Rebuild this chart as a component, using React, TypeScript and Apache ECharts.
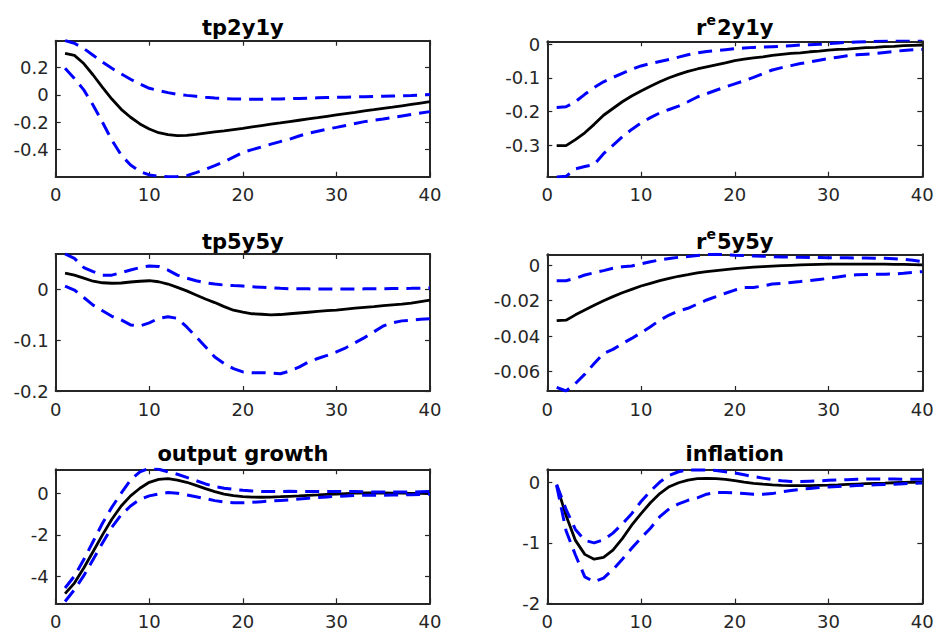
import React, { useEffect, useRef } from "react";
import * as echarts from "echarts";

// horizons 1..40
const horizons = Array.from({ length: 40 }, (_, i) => i + 1);

const tp2y1yMedian = [0.305, 0.29, 0.23, 0.146, 0.056, -0.03, -0.105, -0.163, -0.212, -0.249, -0.276, -0.29, -0.298, -0.296, -0.288, -0.279, -0.27, -0.262, -0.253, -0.244, -0.234, -0.224, -0.214, -0.205, -0.195, -0.185, -0.175, -0.166, -0.156, -0.146, -0.136, -0.127, -0.117, -0.108, -0.098, -0.089, -0.079, -0.069, -0.059, -0.049];
const tp2y1yUpper = [0.398, 0.378, 0.34, 0.29, 0.24, 0.195, 0.154, 0.115, 0.08, 0.049, 0.032, 0.017, 0.005, -0.003, -0.01, -0.017, -0.022, -0.026, -0.029, -0.03, -0.031, -0.031, -0.03, -0.029, -0.027, -0.025, -0.023, -0.021, -0.019, -0.017, -0.016, -0.014, -0.013, -0.011, -0.01, -0.008, -0.006, -0.004, -0.001, 0.003];
const tp2y1yLower = [0.195, 0.12, 0.037, -0.075, -0.2, -0.33, -0.44, -0.512, -0.56, -0.585, -0.594, -0.598, -0.597, -0.59, -0.568, -0.544, -0.517, -0.488, -0.455, -0.42, -0.4, -0.38, -0.36, -0.341, -0.324, -0.3, -0.28, -0.265, -0.25, -0.237, -0.223, -0.209, -0.195, -0.185, -0.176, -0.165, -0.154, -0.143, -0.132, -0.122];

const re2y1yMedian = [-0.301, -0.301, -0.283, -0.263, -0.238, -0.211, -0.191, -0.171, -0.154, -0.139, -0.125, -0.112, -0.1, -0.09, -0.081, -0.074, -0.068, -0.062, -0.056, -0.049, -0.045, -0.041, -0.038, -0.034, -0.031, -0.028, -0.026, -0.023, -0.021, -0.018, -0.016, -0.015, -0.013, -0.011, -0.01, -0.008, -0.007, -0.005, -0.004, -0.003];
const re2y1yUpper = [-0.188, -0.186, -0.171, -0.149, -0.129, -0.112, -0.099, -0.087, -0.075, -0.065, -0.058, -0.052, -0.046, -0.039, -0.032, -0.026, -0.022, -0.02, -0.017, -0.014, -0.012, -0.01, -0.009, -0.008, -0.007, -0.005, -0.003, -0.002, -0.001, 0.001, 0.003, 0.005, 0.006, 0.007, 0.008, 0.01, 0.011, 0.012, 0.012, 0.013];
const re2y1yLower = [-0.394, -0.392, -0.37, -0.363, -0.357, -0.325, -0.3, -0.275, -0.253, -0.234, -0.218, -0.204, -0.194, -0.184, -0.171, -0.157, -0.147, -0.137, -0.127, -0.118, -0.109, -0.099, -0.088, -0.077, -0.07, -0.064, -0.058, -0.053, -0.048, -0.043, -0.039, -0.035, -0.032, -0.03, -0.028, -0.025, -0.022, -0.019, -0.017, -0.016];

const tp5y5yMedian = [0.032, 0.028, 0.022, 0.016, 0.013, 0.012, 0.0125, 0.0145, 0.016, 0.017, 0.015, 0.0105, 0.004, -0.003, -0.011, -0.019, -0.026, -0.034, -0.041, -0.045, -0.048, -0.049, -0.05, -0.0495, -0.048, -0.0465, -0.045, -0.0435, -0.042, -0.041, -0.039, -0.037, -0.0355, -0.034, -0.032, -0.0305, -0.029, -0.027, -0.024, -0.021];
const tp5y5yUpper = [0.07, 0.061, 0.043, 0.035, 0.028, 0.028, 0.033, 0.038, 0.043, 0.046, 0.045, 0.038, 0.028, 0.022, 0.017, 0.013, 0.0105, 0.0085, 0.0075, 0.0066, 0.005, 0.004, 0.003, 0.002, 0.0013, 0.001, 0.001, 0.0008, 0.0007, 0.0007, 0.0007, 0.0008, 0.001, 0.001, 0.0012, 0.0015, 0.0018, 0.002, 0.0023, 0.0026];
const tp5y5yLower = [0.0066, -0.0013, -0.016, -0.031, -0.042, -0.053, -0.06, -0.07, -0.072, -0.066, -0.057, -0.054, -0.057, -0.074, -0.093, -0.113, -0.133, -0.146, -0.156, -0.1625, -0.164, -0.164, -0.1645, -0.166, -0.161, -0.153, -0.143, -0.136, -0.13, -0.123, -0.115, -0.105, -0.095, -0.0836, -0.072, -0.066, -0.062, -0.0605, -0.059, -0.058];

const re5y5yMedian = [-0.0313, -0.031, -0.028, -0.0253, -0.0226, -0.02, -0.0177, -0.0155, -0.0136, -0.0117, -0.0102, -0.0087, -0.0074, -0.0062, -0.0053, -0.0043, -0.0036, -0.003, -0.0024, -0.0019, -0.0015, -0.0011, -0.0008, -0.0005, -0.0002, 0.0, 0.0002, 0.0004, 0.0005, 0.0006, 0.0006, 0.0006, 0.0006, 0.0006, 0.0006, 0.0006, 0.0005, 0.0005, 0.0004, 0.0002];
const re5y5yUpper = [-0.0087, -0.0087, -0.0074, -0.0055, -0.0042, -0.003, -0.0017, -0.0008, -0.0004, 0.0008, 0.002, 0.003, 0.0038, 0.0045, 0.0049, 0.0055, 0.006, 0.0062, 0.006, 0.0057, 0.0055, 0.0053, 0.0051, 0.0049, 0.0047, 0.0046, 0.0045, 0.0044, 0.0044, 0.0043, 0.0042, 0.0042, 0.0041, 0.0041, 0.004, 0.0039, 0.0037, 0.0034, 0.0028, 0.002];
const re5y5yLower = [-0.069, -0.071, -0.0668, -0.0615, -0.0555, -0.0498, -0.0475, -0.0442, -0.0413, -0.0381, -0.0347, -0.031, -0.0281, -0.0257, -0.0243, -0.0219, -0.0196, -0.0177, -0.0158, -0.014, -0.0126, -0.0125, -0.0117, -0.0106, -0.0102, -0.0097, -0.0092, -0.0086, -0.008, -0.0074, -0.0066, -0.0058, -0.0054, -0.0052, -0.0051, -0.005, -0.0049, -0.0045, -0.004, -0.0036];

const outputMedian = [-4.85, -4.34, -3.61, -2.81, -2.0, -1.24, -0.6, -0.11, 0.26, 0.55, 0.69, 0.73, 0.66, 0.55, 0.4, 0.24, 0.1, -0.02, -0.1, -0.145, -0.17, -0.175, -0.165, -0.15, -0.13, -0.11, -0.085, -0.065, -0.04, -0.02, 0.0, 0.02, 0.03, 0.03, 0.03, 0.025, 0.02, 0.015, 0.01, 0.0];
const outputUpper = [-4.58, -4.0, -3.2, -2.32, -1.44, -0.66, 0.02, 0.66, 1.06, 1.23, 1.18, 1.06, 0.94, 0.79, 0.63, 0.47, 0.34, 0.26, 0.21, 0.16, 0.13, 0.1, 0.1, 0.1, 0.11, 0.1, 0.1, 0.1, 0.1, 0.1, 0.1, 0.1, 0.09, 0.08, 0.08, 0.08, 0.08, 0.08, 0.09, 0.1];
const outputLower = [-5.23, -4.66, -3.98, -3.2, -2.4, -1.63, -1.03, -0.6, -0.27, -0.11, -0.02, 0.05, 0.02, -0.06, -0.15, -0.24, -0.34, -0.4, -0.44, -0.44, -0.42, -0.39, -0.36, -0.33, -0.3, -0.26, -0.22, -0.19, -0.16, -0.13, -0.11, -0.09, -0.08, -0.08, -0.08, -0.07, -0.06, -0.05, -0.04, -0.03];

const inflationMedian = [-0.05, -0.55, -0.96, -1.19, -1.27, -1.24, -1.12, -0.93, -0.71, -0.52, -0.34, -0.19, -0.077, -0.011, 0.033, 0.055, 0.06, 0.055, 0.044, 0.022, 0.0, -0.02, -0.035, -0.047, -0.055, -0.06, -0.06, -0.058, -0.054, -0.05, -0.045, -0.039, -0.033, -0.027, -0.022, -0.017, -0.011, -0.006, -0.003, 0.0];
const inflationUpper = [-0.04, -0.45, -0.78, -0.96, -1.0, -0.95, -0.84, -0.69, -0.52, -0.32, -0.15, 0.0, 0.11, 0.17, 0.2, 0.2, 0.2, 0.19, 0.17, 0.15, 0.12, 0.09, 0.065, 0.04, 0.02, 0.01, 0.01, 0.015, 0.02, 0.03, 0.035, 0.04, 0.045, 0.05, 0.05, 0.05, 0.05, 0.048, 0.046, 0.045];
const inflationLower = [-0.06, -0.8, -1.2, -1.56, -1.64, -1.58, -1.44, -1.27, -1.09, -0.92, -0.76, -0.57, -0.44, -0.36, -0.3, -0.26, -0.2, -0.17, -0.17, -0.18, -0.19, -0.2, -0.2, -0.19, -0.16, -0.14, -0.12, -0.105, -0.09, -0.08, -0.072, -0.065, -0.058, -0.052, -0.046, -0.04, -0.034, -0.028, -0.022, -0.016];

const xTicks = [0, 10, 20, 30, 40];

const panels = [
  { title: "{b|tp2y1y}", yMin: -0.598, yMax: 0.397, yTicks: [-0.4, -0.2, 0, 0.2], med: tp2y1yMedian, up: tp2y1yUpper, lo: tp2y1yLower, rect: [55.7, 40.7, 374.3, 136], ty: 25 },
  { title: "{b|r}{s|e}{b|2y1y}", yMin: -0.393, yMax: 0.008, yTicks: [-0.3, -0.2, -0.1, 0], med: re2y1yMedian, up: re2y1yUpper, lo: re2y1yLower, rect: [547.3, 41.3, 375, 135.4], ty: 25 },
  { title: "{b|tp5y5y}", yMin: -0.2, yMax: 0.0696, yTicks: [-0.2, -0.1, 0], med: tp5y5yMedian, up: tp5y5yUpper, lo: tp5y5yLower, rect: [55.7, 254, 374.3, 137], ty: 239 },
  { title: "{b|r}{s|e}{b|5y5y}", yMin: -0.071, yMax: 0.0062, yTicks: [-0.06, -0.04, -0.02, 0], med: re5y5yMedian, up: re5y5yUpper, lo: re5y5yLower, rect: [547.3, 254.3, 375, 136.7], ty: 239 },
  { title: "{b|output growth}", yMin: -5.32, yMax: 1.18, yTicks: [-4, -2, 0], med: outputMedian, up: outputUpper, lo: outputLower, rect: [55.7, 469.3, 374.3, 134], ty: 451 },
  { title: "{b|inflation}", yMin: -2, yMax: 0.21, yTicks: [-2, -1, 0], med: inflationMedian, up: inflationUpper, lo: inflationLower, rect: [547.3, 469.3, 375, 134.3], ty: 451 },
];

const AXIS_COLOR = "#262626";
const FONT = "DejaVu Sans";

export default function App() {
  const ref = useRef<HTMLDivElement>(null);
  useEffect(() => {
    document.body.style.margin = "0";
    if (!ref.current) return;
    const chart = echarts.init(ref.current, undefined, { renderer: "svg" });

    const grids: any[] = [];
    const xAxes: any[] = [];
    const yAxes: any[] = [];
    const series: any[] = [];
    const graphics: any[] = [];

    const axisLine = { show: true, onZero: false, lineStyle: { color: AXIS_COLOR, width: 2 } };
    const axisTick = { show: true, inside: true, length: 5, lineStyle: { color: AXIS_COLOR, width: 1.2 } };

    panels.forEach((p, i) => {
      const [l, t, w, h] = p.rect;
      grids.push({ left: l, top: t, width: w, height: h, containLabel: false });
      xAxes.push({
        gridIndex: i, type: "value", position: "bottom", min: 0, max: 40, interval: 10,
        axisLine, axisTick,
        axisLabel: { show: true, color: AXIS_COLOR, fontSize: 18, fontFamily: FONT, margin: 9, customValues: xTicks },
        splitLine: { show: false },
      });
      xAxes.push({
        gridIndex: i, type: "value", position: "top", min: 0, max: 40, interval: 10,
        axisLine, axisTick, axisLabel: { show: false }, splitLine: { show: false },
      });
      yAxes.push({
        gridIndex: i, type: "value", position: "left", min: p.yMin, max: p.yMax,
        axisLine,
        axisTick: { ...axisTick, customValues: p.yTicks },
        axisLabel: { show: true, color: AXIS_COLOR, fontSize: 18, fontFamily: FONT, margin: 7, customValues: p.yTicks },
        splitLine: { show: false },
      });
      yAxes.push({
        gridIndex: i, type: "value", position: "right", min: p.yMin, max: p.yMax,
        axisLine,
        axisTick: { ...axisTick, customValues: p.yTicks },
        axisLabel: { show: false },
        splitLine: { show: false },
      });
      const toData = (arr: number[]) => horizons.map((x, k) => [x, arr[k]]);
      series.push({
        type: "line", xAxisIndex: 2 * i, yAxisIndex: 2 * i, data: toData(p.med), symbol: "none",
        lineStyle: { color: "#000000", width: 2.8 }, z: 2,
      });
      [p.up, p.lo].forEach((arr) => {
        series.push({
          type: "line", xAxisIndex: 2 * i, yAxisIndex: 2 * i, data: toData(arr), symbol: "none",
          lineStyle: { color: "#0000ff", width: 3, type: [14, 8] }, z: 3,
        });
      });
      graphics.push({
        type: "text",
        x: l + w / 2,
        y: p.ty,
        style: {
          text: p.title,
          align: "center",
          verticalAlign: "middle",
          rich: {
            b: { fontSize: 21, fontWeight: "bold", fontFamily: FONT, fill: "#000", lineHeight: 26, verticalAlign: "bottom" },
            s: { fontSize: 14, fontWeight: "bold", fontFamily: FONT, fill: "#000", lineHeight: 26, verticalAlign: "bottom", padding: [0, 1, 11, 0] },
          },
        },
      });
    });

    chart.setOption({
      animation: false,
      backgroundColor: "#ffffff",
      grid: grids,
      xAxis: xAxes,
      yAxis: yAxes,
      series,
      graphic: graphics,
    });
    return () => chart.dispose();
  }, []);
  return <div ref={ref} style={{ width: 937, height: 633 }} />;
}
